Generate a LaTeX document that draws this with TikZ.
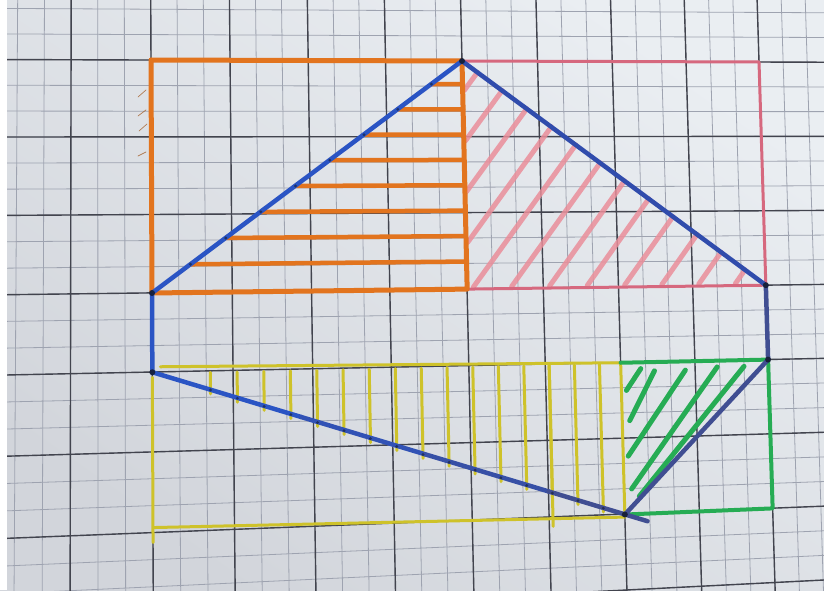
\documentclass[tikz,border=0pt]{standalone}
\usetikzlibrary{calc}
\definecolor{paperL}{RGB}{234,238,242}
\definecolor{paperD}{RGB}{210,213,219}
\definecolor{gridminor}{RGB}{158,163,176}
\definecolor{gridmajor}{RGB}{66,68,78}
\definecolor{orangeI}{RGB}{226,116,30}
\definecolor{pinkI}{RGB}{214,104,126}
\definecolor{pinkH}{RGB}{234,142,154}
\definecolor{blueI}{RGB}{42,84,196}
\definecolor{blueM}{RGB}{48,76,172}
\definecolor{blueN}{RGB}{64,78,146}
\definecolor{yellowI}{RGB}{206,194,42}
\definecolor{greenI}{RGB}{38,172,84}
\definecolor{inkc}{RGB}{20,28,50}
% grid unit (u,v), v downwards, mapped onto the photo's pixels
\newcommand\GP[2]{({151+(#2)/9+(26.5+0.05*(#2))*(#1)-(0.0486+0.000967*(#2))*(#1)*(#1)},{590-(60+(#1)/12+(25.5-0.02917*(#1))*(#2)+0.0432*(1-(#1)/24)*(#2)*(#2))})}
\begin{document}
\begin{tikzpicture}[x=1pt,y=1pt,line cap=round,line join=round,
  gmin/.style={draw=gridminor,line width=0.8pt},
  gmaj/.style={draw=gridmajor,line width=1.4pt},
  oline/.style={draw=orangeI,line width=5pt},
  ohatch/.style={draw=orangeI,line width=4.5pt},
  otick/.style={draw=orangeI!70!black,line width=0.7pt,opacity=0.7},
  pline/.style={draw=pinkI,line width=3pt},
  phatch/.style={draw=pinkH,line width=5pt,opacity=0.85},
  yline/.style={draw=yellowI,line width=3pt},
  yhatch/.style={draw=yellowI,line width=3pt},
  gline/.style={draw=greenI,line width=4pt},
  ghatch/.style={draw=greenI,line width=5pt},
  bline/.style={draw=blueI,line width=4.5pt},
  inkdot/.style={fill=inkc,opacity=0.6},
  vdot/.style={fill=inkc,opacity=0.9}]
\useasboundingbox (0,0) rectangle (824,590);
\shade[top color=paperL,bottom color=paperD,shading angle=-35] (0,0) rectangle (824,590);
% grid
\foreach \uu in {-5,...,26} \draw[gmin] \GP{\uu}{-3} -- \GP{\uu}{22};
\foreach \vv in {-2,...,21} \draw[gmin] \GP{-6}{\vv} -- \GP{27}{\vv};
\foreach \uu in {-3,0,...,24} \draw[gmaj] \GP{\uu}{-3} -- \GP{\uu}{22};
\foreach \vv in {0,3,...,21} \draw[gmaj] \GP{-6}{\vv} -- \GP{27}{\vv};
\fill[white] (0,0) rectangle (7,590);
% named points
\path \GP{0}{0} coordinate (O) \GP{12}{0} coordinate (A) \GP{24}{0} coordinate (P)
      \GP{24}{9} coordinate (B) \GP{24}{12} coordinate (C) \GP{18}{18} coordinate (D)
      \GP{0}{12} coordinate (E) \GP{0}{9} coordinate (F) \GP{12}{9} coordinate (M)
      \GP{18.9}{18.3} coordinate (Dx) \GP{18}{12} coordinate (G1) \GP{24}{18} coordinate (G2);
% pink hatch
\foreach \kk in {0,...,11}{
  \pgfmathsetmacro\tp{0.05+0.08*\kk}
  \pgfmathsetmacro\plen{min(20*\tp,11.25*(1-\tp))-0.1}
  \pgfmathsetmacro\pu{12+12*\tp}
  \pgfmathsetmacro\pv{9*\tp}
  \pgfmathsetmacro\qu{\pu-0.6*\plen}
  \pgfmathsetmacro\qv{\pv+0.8*\plen}
  \draw[phatch] \GP{\qu}{\qv} -- \GP{\pu}{\pv};
}
\draw[pline] (A) -- (P) -- (B) -- (M);
% orange hatch
\foreach \kk in {1,...,8}{
  \pgfmathsetmacro\hv{\kk-0.08}
  \pgfmathsetmacro\hu{12-4*\hv/3}
  \draw[ohatch] \GP{\hu}{\hv} -- \GP{12}{\hv};
}
\draw[oline] (O) -- (A) -- (M) -- (F) -- cycle;
\draw[otick] (138,493) -- (146,500);
\draw[otick] (138,474) -- (146,480);
\draw[otick] (139,459) -- (147,466);
\draw[otick] (138,434) -- (146,438);
% yellow hatch
\foreach \kk in {2,...,17}{
  \pgfmathsetmacro\hu{\kk+0.15}
  \pgfmathsetmacro\hv{12+\hu/3+0.15}
  \draw[yhatch] \GP{\hu}{12.05} -- \GP{\hu}{\hv};
}
\draw[yhatch] \GP{15.15}{12.05} -- \GP{15.15}{18.35};
\draw[yline] \GP{0.3}{11.8} -- (G1);
\draw[yline] \GP{0}{12.2} -- \GP{0}{18.35};
\draw[yline] \GP{0.05}{17.8} -- \GP{18}{18.1};
\draw[yline] (G1) -- (D);
% green hatch
\draw[ghatch] \GP{18.2}{13.1} -- \GP{18.8}{12.25};
\draw[ghatch] \GP{18.3}{14.3} -- \GP{19.35}{12.35};
\draw[ghatch] \GP{18.2}{15.7} -- \GP{20.6}{12.35};
\draw[ghatch] \GP{18.3}{17.0} -- \GP{21.9}{12.25};
\draw[ghatch] \GP{18.6}{17.3} -- \GP{23.0}{12.25};
\draw[gline] (G1) -- (C) -- (G2) -- (D);
% blue polygon
\draw[bline] (E) -- (F) -- (A);
\draw[bline,draw=blueM] (A) -- (B);
\draw[bline,draw=blueN] (B) -- (C) -- (D);
\draw[bline] (E) -- ($(E)!0.3!(Dx)$);
\draw[bline,draw=blueI!70!blueN] ($(E)!0.3!(Dx)$) -- ($(E)!0.55!(Dx)$);
\draw[bline,draw=blueI!40!blueN] ($(E)!0.55!(Dx)$) -- ($(E)!0.8!(Dx)$);
\draw[bline,draw=blueN] ($(E)!0.8!(Dx)$) -- (Dx);
% ink spots
\foreach \kk in {2,...,17} \fill[inkdot] \GP{\kk+0.15}{12+(\kk+0.15)/3} circle (1.6);
\foreach \kk in {1,...,8} \fill[inkdot] \GP{12-4*(\kk-0.08)/3}{\kk-0.08} circle (1.6);
\foreach \pt in {A,B,C,D,E,F} \fill[vdot] (\pt) circle (3);
\end{tikzpicture}
\end{document}
